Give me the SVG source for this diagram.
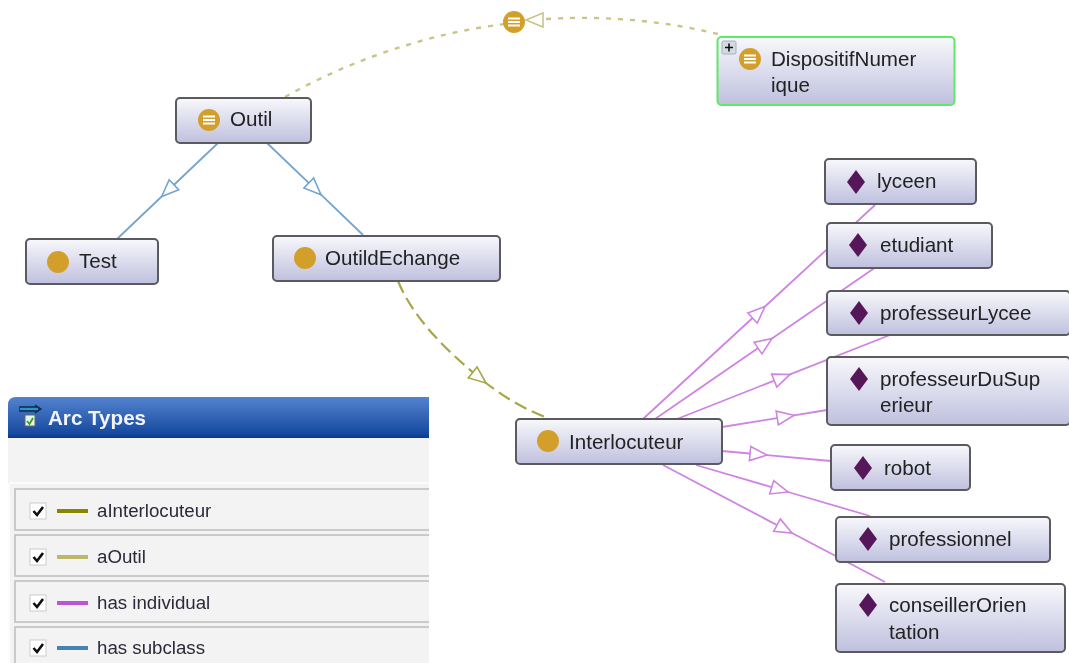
<svg xmlns="http://www.w3.org/2000/svg" width="1069" height="663" viewBox="0 0 1069 663">
<style>
.n{fill:url(#g);stroke:#5a5a5e;stroke-width:2}
.t{font-family:"Liberation Sans",Arial,sans-serif;font-size:20.6px;fill:#222}
.c{fill:#d2a02c}
.d{fill:#57195a}
.e{fill:none}
.p{stroke:#cf84e2;stroke-width:1.8;marker-mid:url(#ap)}
.b{stroke:#74a4cf;stroke-width:1.8;marker-mid:url(#ab)}
.o{stroke:#a7a648;stroke-width:2.2;stroke-dasharray:13 6;marker-mid:url(#ao)}
.k{stroke:#c9c58a;stroke-width:2.4;stroke-dasharray:5 7}
.m{stroke:#fff;stroke-width:1.8}
.row{fill:#f3f3f3;stroke:#bdbdbd;stroke-width:1.5}
.cb{fill:#fff;stroke:#ccc}
.ck{fill:none;stroke:#111;stroke-width:2.6}
.l{font-family:"Liberation Sans",Arial,sans-serif;font-size:18.7px;fill:#2a2a3a}
.s{stroke-width:4}
</style>
<defs>
<filter id="soft" x="0" y="0" width="100%" height="100%"><feGaussianBlur stdDeviation="0.5"/></filter>
<linearGradient id="g" x1="0" y1="0" x2="0" y2="1"><stop offset="0" stop-color="#f8f8fc"/><stop offset="1" stop-color="#bfc0de"/></linearGradient>
<linearGradient id="h" x1="0" y1="0" x2="0" y2="1"><stop offset="0" stop-color="#5482cf"/><stop offset="0.9" stop-color="#164a9f"/><stop offset="1" stop-color="#053593"/></linearGradient>
<marker id="ap" markerUnits="userSpaceOnUse" markerWidth="24" markerHeight="20" refX="18" refY="9" orient="auto"><path d="M1 2L18 9L1 16Z" fill="#fff" stroke="#cf84e2" stroke-width="1.6"/></marker>
<marker id="ab" markerUnits="userSpaceOnUse" markerWidth="24" markerHeight="20" refX="18" refY="9" orient="auto"><path d="M1 2L18 9L1 16Z" fill="#fff" stroke="#74a4cf" stroke-width="1.6"/></marker>
<marker id="ao" markerUnits="userSpaceOnUse" markerWidth="24" markerHeight="20" refX="18" refY="9" orient="auto"><path d="M1 2L18 9L1 16Z" fill="#fff" stroke="#a7a648" stroke-width="1.6"/></marker>
</defs>
<g filter="url(#soft)">
<g id="connectors">
<path class="e k" d="M285 97C350 60 430 33 505 24"/>
<path class="e k" d="M546 19C610 15 670 22 722 35"/>
<path d="M543 13L526 20L543 27Z" fill="#fff" stroke="#c9c58a" stroke-width="1.6"/>
<polyline class="e b" points="218,143 161.700,196.500 117,239"/>
<polyline class="e b" points="267,143 321,194.700 363,235"/>
<path class="e o" d="M398 281C413 318 447 352 486 383C505 398 528 411 548 418"/>
<polyline class="e p" points="643,419 765,306.500 875,205"/>
<polyline class="e p" points="655,419 772,338.500 876,267"/>
<polyline class="e p" points="677,419 790,374.400 890,335"/>
<polyline class="e p" points="722,427 794,415.300 827,410"/>
<polyline class="e p" points="722,451 767,455.100 831,461"/>
<polyline class="e p" points="696,465 788,492 870,516"/>
<polyline class="e p" points="663,465 792,533 885,582"/>
</g>
<g id="outil-top"><circle class="c" cx="514" cy="22" r="11"/><path class="m" d="M508 18.500H520M508 22H520M508 25.500H520"/></g>
<g id="DispositifNumerique"><rect x="717.500" y="37" width="237" height="68" rx="4" fill="url(#g)" stroke="#5fe86a" stroke-width="2"/><circle class="c" cx="750" cy="59" r="11"/><path class="m" d="M744 55.500H756M744 59H756M744 62.500H756"/><rect x="722" y="41" width="14" height="13" rx="1.500" fill="#d5dae0" stroke="#9db2c6"/><path d="M725 47.500H733M729 43.500V51.500" stroke="#111" stroke-width="1.600"/><text class="t" x="771" y="66">DispositifNumer</text><text class="t" x="771" y="92">ique</text></g>
<g id="Outil"><rect class="n" x="176" y="98" width="135" height="45" rx="4"/><circle class="c" cx="209" cy="120" r="11"/><path class="m" d="M203 116.500H215M203 120H215M203 123.500H215"/><text class="t" x="230" y="126">Outil</text></g>
<g id="Test"><rect class="n" x="26" y="239" width="132" height="45" rx="4"/><circle class="c" cx="58" cy="262" r="11"/><text class="t" x="79" y="268">Test</text></g>
<g id="OutilEchange"><rect class="n" x="273" y="236" width="227" height="45" rx="4"/><circle class="c" cx="305" cy="258" r="11"/><text class="t" x="325" y="265">OutildEchange</text></g>
<g id="Interlocuteur"><rect class="n" x="516" y="419" width="206" height="45" rx="4"/><circle class="c" cx="548" cy="441" r="11"/><text class="t" x="569" y="449">Interlocuteur</text></g>
<g id="lyceen"><rect class="n" x="825" y="159" width="151" height="45" rx="4"/><path class="d" d="M856 170L865 182L856 194L847 182Z"/><text class="t" x="877" y="188">lyceen</text></g>
<g id="etudiant"><rect class="n" x="827" y="223" width="165" height="45" rx="4"/><path class="d" d="M858 233L867 245L858 257L849 245Z"/><text class="t" x="880" y="252">etudiant</text></g>
<g id="professeurLycee"><rect class="n" x="827" y="291" width="243" height="44" rx="4"/><path class="d" d="M859 301L868 313L859 325L850 313Z"/><text class="t" x="880" y="320">professeurLycee</text></g>
<g id="professeurDuSuperieur"><rect class="n" x="827" y="357" width="243" height="68" rx="4"/><path class="d" d="M859 367L868 379L859 391L850 379Z"/><text class="t" x="880" y="386">professeurDuSup</text><text class="t" x="880" y="412">erieur</text></g>
<g id="robot"><rect class="n" x="831" y="445" width="139" height="45" rx="4"/><path class="d" d="M863 456L872 468L863 480L854 468Z"/><text class="t" x="884" y="475">robot</text></g>
<g id="professionnel"><rect class="n" x="836" y="517" width="214" height="45" rx="4"/><path class="d" d="M868 527L877 539L868 551L859 539Z"/><text class="t" x="889" y="546">professionnel</text></g>
<g id="conseillerOrientation"><rect class="n" x="836" y="584" width="229" height="68" rx="4"/><path class="d" d="M868 593L877 605L868 617L859 605Z"/><text class="t" x="889" y="612">conseillerOrien</text><text class="t" x="889" y="639">tation</text></g>
<g id="arc-types">
<rect x="8" y="438" width="421" height="225" fill="#f3f3f3"/>
<path d="M8 438V405Q8 397 16 397H429V438Z" fill="url(#h)"/>
<path d="M19 409H40M35 405L41 409L35 413M19 407H38M19 411H38" fill="none" stroke="#0c2c50" stroke-width="1.300"/>
<path d="M20 409H38" stroke="#2bb6e6" stroke-width="1.500"/>
<rect x="25" y="415" width="10" height="11" fill="#e8f4e8" stroke="#666"/>
<path d="M27 421L29.500 424L33 418" fill="none" stroke="#2aa52a" stroke-width="1.800"/>
<text x="48" y="425" font-family="'Liberation Sans',Arial,sans-serif" font-weight="700" font-size="20.600px" fill="#f2f5fb">Arc Types</text>
<path d="M9 484V663M9 483H429" fill="none" stroke="#fff" stroke-width="1.500"/>
<rect class="row" x="15" y="489" width="420" height="41"/>
<rect class="row" x="15" y="535" width="420" height="41"/>
<rect class="row" x="15" y="581" width="420" height="41"/>
<rect class="row" x="15" y="627" width="420" height="50"/>
<rect x="429" y="397" width="14" height="266" fill="#fff"/>
<rect class="cb" x="30" y="503" width="16" height="16"/><path class="ck" d="M33.500 511L37 515L43 507"/>
<rect class="cb" x="30" y="549" width="16" height="16"/><path class="ck" d="M33.500 557L37 561L43 553"/>
<rect class="cb" x="30" y="595" width="16" height="16"/><path class="ck" d="M33.500 603L37 607L43 599"/>
<rect class="cb" x="30" y="640" width="16" height="16"/><path class="ck" d="M33.500 648L37 652L43 644"/>
<path class="s" d="M57 511H88" stroke="#868600"/>
<path class="s" d="M57 557H88" stroke="#bdb76b"/>
<path class="s" d="M57 603H88" stroke="#ba55d3"/>
<path class="s" d="M57 648H88" stroke="#4682b4"/>
<text class="l" x="97" y="517">aInterlocuteur</text>
<text class="l" x="97" y="563">aOutil</text>
<text class="l" x="97" y="609">has individual</text>
<text class="l" x="97" y="654">has subclass</text>
</g>
</g>
</svg>
